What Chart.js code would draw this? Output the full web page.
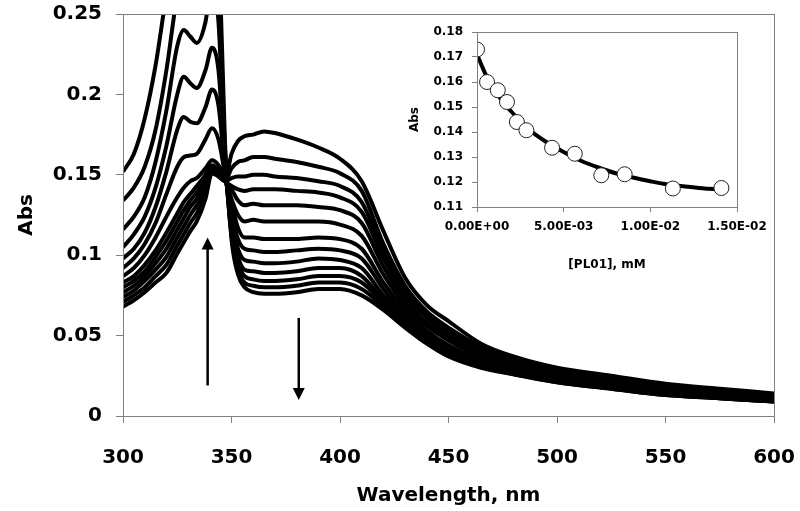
<!DOCTYPE html>
<html>
<head>
<meta charset="utf-8">
<script src="https://cdn.jsdelivr.net/npm/chart.js@4.4.0/dist/chart.umd.min.js"></script>
<style>
  html, body { margin: 0; padding: 0; background: #fff; }
  #wrap { position: relative; width: 800px; height: 511px; }
  #main { position: absolute; left: 0; top: 0; }
  #inset { position: absolute; left: 395px; top: 15px; }
</style>
</head>
<body>
<div id="wrap">
  <canvas id="main" width="800" height="511"></canvas>
  <canvas id="inset" width="390" height="270"></canvas>
</div>
<script>
const wavelengths = [300, 305, 310, 315, 320, 325, 328, 331, 334, 338, 341, 344, 347, 350, 353, 356, 360, 365, 370, 380, 390, 400, 410, 420, 430, 440, 450, 465, 480, 500, 525, 550, 575, 600];

// spectra, from highest 340 nm band to lowest
const spec01 = [0.152, 0.163, 0.185, 0.218, 0.262, 0.30, 0.32, 0.33, 0.34, 0.355, 0.37, 0.30, 0.17, 0.110, 0.088, 0.080, 0.077, 0.076, 0.076, 0.077, 0.079, 0.079, 0.075, 0.066, 0.055, 0.045, 0.037, 0.030, 0.026, 0.021, 0.017, 0.013, 0.011, 0.009];
const spec02 = [0.134, 0.142, 0.155, 0.178, 0.215, 0.262, 0.28, 0.29, 0.29, 0.30, 0.31, 0.27, 0.165, 0.112, 0.091, 0.083, 0.081, 0.080, 0.080, 0.081, 0.083, 0.083, 0.079, 0.068, 0.056, 0.046, 0.038, 0.031, 0.026, 0.021, 0.017, 0.013, 0.011, 0.009];
const spec03 = [0.116, 0.124, 0.136, 0.158, 0.190, 0.230, 0.240, 0.236, 0.232, 0.245, 0.27, 0.245, 0.160, 0.115, 0.095, 0.087, 0.085, 0.084, 0.084, 0.085, 0.087, 0.087, 0.083, 0.070, 0.057, 0.047, 0.039, 0.031, 0.027, 0.022, 0.018, 0.014, 0.011, 0.009];
const spec04 = [0.105, 0.113, 0.124, 0.142, 0.168, 0.200, 0.211, 0.207, 0.204, 0.215, 0.229, 0.215, 0.157, 0.118, 0.099, 0.091, 0.090, 0.089, 0.089, 0.090, 0.092, 0.092, 0.087, 0.072, 0.059, 0.048, 0.040, 0.032, 0.027, 0.022, 0.018, 0.014, 0.012, 0.010];
const spec05 = [0.098, 0.104, 0.114, 0.130, 0.152, 0.178, 0.186, 0.183, 0.182, 0.192, 0.203, 0.193, 0.153, 0.122, 0.104, 0.097, 0.096, 0.095, 0.095, 0.096, 0.098, 0.097, 0.092, 0.075, 0.061, 0.050, 0.041, 0.033, 0.028, 0.023, 0.019, 0.014, 0.012, 0.010];
const spec06 = [0.092, 0.098, 0.107, 0.120, 0.138, 0.155, 0.161, 0.162, 0.163, 0.172, 0.179, 0.172, 0.150, 0.126, 0.110, 0.104, 0.103, 0.102, 0.102, 0.103, 0.104, 0.103, 0.098, 0.079, 0.063, 0.051, 0.043, 0.034, 0.029, 0.023, 0.019, 0.015, 0.013, 0.010];
const spec07 = [0.087, 0.092, 0.100, 0.111, 0.124, 0.136, 0.142, 0.146, 0.148, 0.154, 0.159, 0.156, 0.148, 0.132, 0.117, 0.111, 0.111, 0.110, 0.110, 0.110, 0.111, 0.110, 0.104, 0.083, 0.066, 0.053, 0.044, 0.035, 0.030, 0.024, 0.020, 0.015, 0.013, 0.011];
const spec08 = [0.083, 0.087, 0.094, 0.103, 0.114, 0.126, 0.133, 0.138, 0.143, 0.150, 0.156, 0.153, 0.147, 0.135, 0.125, 0.121, 0.122, 0.121, 0.121, 0.121, 0.121, 0.119, 0.112, 0.088, 0.069, 0.056, 0.047, 0.037, 0.031, 0.025, 0.021, 0.016, 0.014, 0.011];
const spec09 = [0.080, 0.084, 0.090, 0.099, 0.109, 0.121, 0.128, 0.134, 0.139, 0.147, 0.155, 0.152, 0.147, 0.141, 0.134, 0.131, 0.132, 0.131, 0.131, 0.131, 0.130, 0.128, 0.120, 0.093, 0.072, 0.058, 0.049, 0.038, 0.032, 0.026, 0.021, 0.017, 0.014, 0.012];
const spec10 = [0.077, 0.081, 0.087, 0.095, 0.104, 0.116, 0.123, 0.130, 0.135, 0.144, 0.154, 0.151, 0.146, 0.143, 0.141, 0.140, 0.141, 0.141, 0.141, 0.140, 0.139, 0.136, 0.127, 0.098, 0.075, 0.061, 0.051, 0.040, 0.033, 0.027, 0.022, 0.018, 0.015, 0.012];
const spec11 = [0.074, 0.078, 0.084, 0.091, 0.099, 0.111, 0.118, 0.125, 0.131, 0.141, 0.153, 0.150, 0.146, 0.148, 0.149, 0.149, 0.150, 0.150, 0.149, 0.148, 0.146, 0.143, 0.133, 0.102, 0.078, 0.063, 0.053, 0.041, 0.034, 0.028, 0.023, 0.018, 0.015, 0.013];
const spec12 = [0.071, 0.075, 0.080, 0.087, 0.094, 0.106, 0.113, 0.120, 0.126, 0.138, 0.152, 0.149, 0.146, 0.154, 0.158, 0.159, 0.161, 0.161, 0.160, 0.158, 0.155, 0.151, 0.140, 0.107, 0.081, 0.065, 0.055, 0.043, 0.035, 0.029, 0.024, 0.019, 0.016, 0.013];
const spec13 = [0.068, 0.072, 0.077, 0.083, 0.089, 0.101, 0.108, 0.115, 0.121, 0.135, 0.151, 0.149, 0.147, 0.163, 0.171, 0.174, 0.175, 0.177, 0.176, 0.172, 0.167, 0.160, 0.146, 0.115, 0.086, 0.069, 0.059, 0.045, 0.037, 0.030, 0.025, 0.020, 0.017, 0.014];
const spectra = [spec01, spec02, spec03, spec04, spec05, spec06, spec07, spec08, spec09, spec10, spec11, spec12, spec13];

// arrows: wavelength, start and end absorbance
const arrowUp = [339, 0.019, 0.111];
const arrowDown = [381, 0.061, 0.010];

// inset: titration points and fitted curve
const concPL01 = [0, 0.00058, 0.0012, 0.00173, 0.0023, 0.00285, 0.00433, 0.00564, 0.00717, 0.00852, 0.0113, 0.0141];
const absPoints = [0.173, 0.160, 0.1567, 0.152, 0.144, 0.1407, 0.1337, 0.1313, 0.1227, 0.1231, 0.1174, 0.1176];
const fitConc = [0, 0.0005, 0.001, 0.0015, 0.002, 0.003, 0.004, 0.005, 0.006, 0.007, 0.008, 0.009, 0.010, 0.011, 0.012, 0.013, 0.014];
const fitAbs = [0.171, 0.163, 0.157, 0.152, 0.148, 0.141, 0.136, 0.132, 0.1285, 0.1258, 0.1235, 0.1218, 0.1203, 0.119, 0.1182, 0.1175, 0.117];

const FONT = 'DejaVu Sans';
Chart.defaults.font.family = FONT;
Chart.defaults.font.weight = 'bold';
Chart.defaults.color = '#000';

// fixed axis sizes, no extra label padding so the layout padding decides the plot box
function fixSize(w, h) {
    return s => {
        if (w) s.width = w;
        if (h) s.height = h;
        s.paddingTop = 0; s.paddingBottom = 0; s.paddingLeft = 0; s.paddingRight = 0;
    };
}

const boxPlugin = {
    id: 'box',
    afterDraw(chart) {
        const a = chart.chartArea, ctx = chart.ctx;
        ctx.save();
        ctx.strokeStyle = '#808080';
        ctx.lineWidth = 1;
        ctx.strokeRect(Math.round(a.left) + 0.5, Math.round(a.top) + 0.5, Math.round(a.width), Math.round(a.height));
        ctx.restore();
    }
};

function drawArrow(chart, arr) {
    const ctx = chart.ctx, xs = chart.scales.x, ys = chart.scales.y;
    const x = xs.getPixelForValue(arr[0]);
    const y0 = ys.getPixelForValue(arr[1]);
    const y1 = ys.getPixelForValue(arr[2]);
    const dir = y1 < y0 ? 1 : -1;
    ctx.save();
    ctx.strokeStyle = '#000';
    ctx.fillStyle = '#000';
    ctx.lineWidth = 2.5;
    ctx.beginPath();
    ctx.moveTo(x, y0);
    ctx.lineTo(x, y1 + dir * 10);
    ctx.stroke();
    ctx.beginPath();
    ctx.moveTo(x, y1);
    ctx.lineTo(x - 6, y1 + dir * 12);
    ctx.lineTo(x + 6, y1 + dir * 12);
    ctx.closePath();
    ctx.fill();
    ctx.restore();
}

const arrowPlugin = {
    id: 'arrows',
    afterDatasetsDraw(chart) {
        drawArrow(chart, arrowUp);
        drawArrow(chart, arrowDown);
    }
};

new Chart(document.getElementById('main'), {
    type: 'line',
    data: {
        datasets: spectra.map(s => ({
            data: s.map((v, i) => ({ x: wavelengths[i], y: v })),
            borderColor: '#000',
            borderWidth: 4,
            pointRadius: 0,
            cubicInterpolationMode: 'monotone',
            fill: false
        }))
    },
    options: {
        responsive: false,
        animation: false,
        layout: { padding: { top: 14, right: 26, left: 0, bottom: 0 } },
        plugins: { legend: { display: false }, tooltip: { enabled: false } },
        scales: {
            x: {
                type: 'linear',
                min: 300, max: 600,
                afterFit: fixSize(0, 95),
                grid: { drawOnChartArea: false, tickLength: 7, color: '#808080' },
                border: { color: '#808080' },
                ticks: { stepSize: 50, padding: 23, font: { size: 20 } },
                title: { display: true, text: 'Wavelength, nm', font: { size: 20 }, padding: { top: 0, bottom: 3 } }
            },
            y: {
                min: 0, max: 0.25,
                afterFit: fixSize(123, 0),
                grid: { drawOnChartArea: false, tickLength: 7, color: '#808080' },
                border: { color: '#808080' },
                ticks: { stepSize: 0.05, padding: 14, font: { size: 20 }, callback: v => String(+v.toFixed(2)) },
                title: { display: true, text: 'Abs', font: { size: 20 }, padding: { top: 15, bottom: 0 } }
            }
        }
    },
    plugins: [boxPlugin, arrowPlugin]
});

function sci(v) {
    if (Math.abs(v) < 1e-12) return '0.00E+00';
    const e = Math.floor(Math.log10(Math.abs(v)) + 1e-9);
    const m = v / Math.pow(10, e);
    return m.toFixed(2) + 'E' + (e < 0 ? '-' : '+') + String(Math.abs(e)).padStart(2, '0');
}

new Chart(document.getElementById('inset'), {
    type: 'scatter',
    data: {
        datasets: [{
            data: concPL01.map((c, i) => ({ x: c, y: absPoints[i] })),
            pointRadius: 7.5,
            pointBackgroundColor: '#fff',
            pointBorderColor: '#222',
            pointBorderWidth: 1,
            showLine: false
        }, {
            data: fitConc.map((c, i) => ({ x: c, y: fitAbs[i] })),
            showLine: true,
            borderColor: '#000',
            borderWidth: 4,
            pointRadius: 0,
            cubicInterpolationMode: 'monotone'
        }]
    },
    options: {
        responsive: false,
        animation: false,
        layout: { padding: { top: 17, right: 48, left: 0, bottom: 0 } },
        plugins: { legend: { display: false }, tooltip: { enabled: false } },
        scales: {
            x: {
                type: 'linear',
                min: 0, max: 0.015,
                afterFit: fixSize(0, 78),
                grid: { drawOnChartArea: false, tickLength: 5, color: '#808080' },
                border: { color: '#808080' },
                ticks: { stepSize: 0.005, padding: 8, font: { size: 12 }, callback: v => sci(v) },
                title: { display: true, text: '[PL01], mM', font: { size: 12 }, padding: { top: 0, bottom: 13 } }
            },
            y: {
                min: 0.11, max: 0.18,
                afterFit: fixSize(82, 0),
                grid: { drawOnChartArea: false, tickLength: 5, color: '#808080' },
                border: { color: '#808080' },
                ticks: { stepSize: 0.01, padding: 9, font: { size: 12 }, callback: v => (+v).toFixed(2) },
                title: { display: true, text: 'Abs', font: { size: 12 }, padding: { top: 13, bottom: 0 } }
            }
        }
    },
    plugins: [boxPlugin]
});
</script>
</body>
</html>
